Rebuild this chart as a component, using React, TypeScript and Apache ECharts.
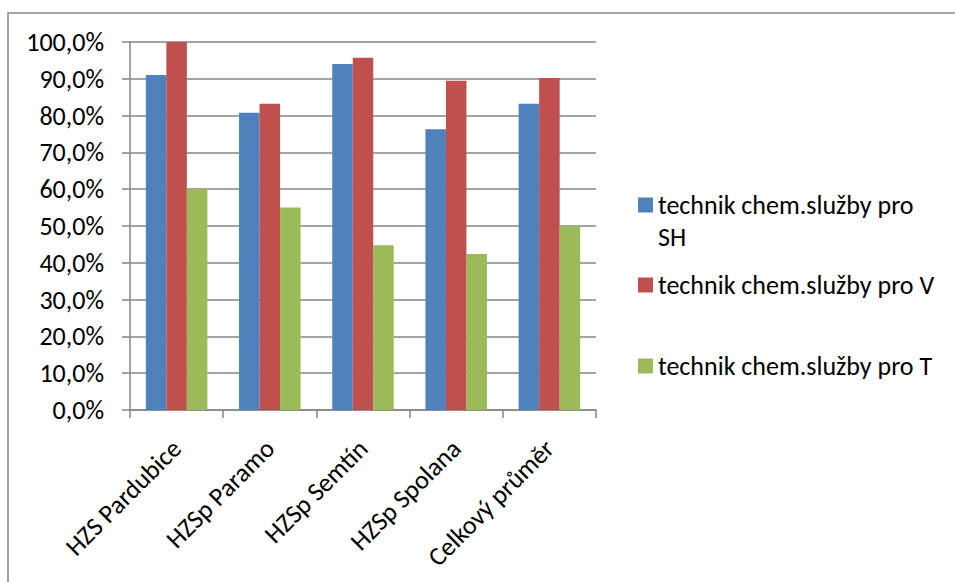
import React, { useEffect, useRef } from "react";
import * as echarts from "echarts";

const categories = ["HZS Pardubice", "HZSp Paramo", "HZSp Semtín", "HZSp Spolana", "Celkový průměr"];
const seriesNames = ["technik chem.služby pro SH", "technik chem.služby pro V", "technik chem.služby pro T"];
const valuesSH = [91.0, 80.8, 94.0, 76.3, 83.2];
const valuesV = [100.0, 83.2, 95.7, 89.5, 90.2];
const valuesT = [60.0, 55.0, 44.8, 42.4, 50.0];
const colors = ["#4F81BD", "#C0504D", "#9BBB59"];

const FONT = "Carlito, 'Open Sans', sans-serif";
const FS = 26;

export default function App() {
  const ref = useRef<HTMLDivElement>(null);
  useEffect(() => {
    if (!ref.current) return;
    const chart = echarts.init(ref.current, null, { renderer: "svg" });
    const legendBase = {
      orient: "vertical",
      left: 638,
      padding: 0,
      selectedMode: false,
      icon: "rect",
      itemWidth: 15,
      itemHeight: 15,
      textStyle: { fontFamily: FONT, fontSize: FS, color: "#000", lineHeight: 32 },
    };
    chart.setOption({
      animation: false,
      backgroundColor: "#fff",
      textStyle: { fontFamily: FONT },
      grid: { left: 130, right: 359, top: 42, bottom: 172, containLabel: false },
      legend: [
        {
          ...legendBase,
          top: 157,
          data: [seriesNames[0]],
          formatter: () => "\ntechnik chem.služby pro\nSH",
        },
        { ...legendBase, top: 269, data: [seriesNames[1]] },
        { ...legendBase, top: 350, data: [seriesNames[2]] },
      ],
      xAxis: {
        type: "category",
        data: categories,
        axisLine: { show: true, lineStyle: { color: "#868686", width: 1.5 } },
        axisTick: { show: true, length: 8, alignWithLabel: false, lineStyle: { color: "#868686", width: 1.5 } },
        axisLabel: {
          rotate: 45,
          interval: 0,
          margin: 34,
          fontFamily: FONT,
          fontSize: FS,
          color: "#000",
        },
      },
      yAxis: {
        type: "value",
        min: 0,
        max: 100,
        interval: 10,
        axisLine: { show: true, lineStyle: { color: "#868686", width: 1.5 } },
        axisTick: { show: true, length: 8, inside: false, lineStyle: { color: "#868686", width: 1.5 } },
        splitLine: { show: true, lineStyle: { color: "#868686", width: 1.5 } },
        axisLabel: {
          margin: 26,
          fontFamily: FONT,
          fontSize: FS,
          color: "#000",
          formatter: (v: number) => v.toFixed(1).replace(".", ",") + "%",
        },
      },
      series: [valuesSH, valuesV, valuesT].map((d, i) => ({
        name: seriesNames[i],
        type: "bar",
        data: d,
        barGap: "0%",
        barCategoryGap: "34%",
        itemStyle: { color: colors[i] },
      })),
      graphic: [
        {
          type: "rect",
          shape: { x: 8, y: 13, width: 1000, height: 700 },
          style: { fill: "none", stroke: "#868686", lineWidth: 1.5 },
          silent: true,
        },
      ],
    });
    return () => chart.dispose();
  }, []);
  return (
    <div
      ref={ref}
      style={{ position: "fixed", left: 0, top: 0, width: 955, height: 582 }}
    />
  );
}
